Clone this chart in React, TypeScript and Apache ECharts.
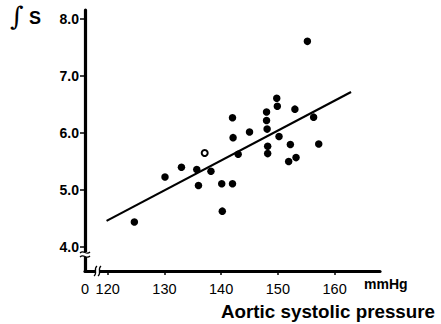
import React, { useEffect, useRef } from "react";
import * as echarts from "echarts";

// Aortic systolic pressure (mmHg) and ∫S values, filled dots
const pressure = [124.7, 130.1, 133.0, 135.7, 136.0, 138.2, 140.1, 140.2, 142.0, 142.0, 142.1, 143.0, 145.0, 148.0, 148.0, 148.1, 148.2, 148.2, 149.8, 149.9, 150.2, 152.2, 151.9, 153.2, 153.0, 155.2, 156.3, 157.2];
const integralS = [4.44, 5.23, 5.40, 5.36, 5.08, 5.33, 5.11, 4.63, 5.11, 6.27, 5.92, 5.63, 6.02, 6.37, 6.22, 6.07, 5.77, 5.64, 6.61, 6.47, 5.94, 5.80, 5.50, 5.57, 6.42, 7.61, 6.28, 5.81];
// open dot
const openPressure = [137.1];
const openS = [5.65];
// regression line end points
const fitPressure = [119.8, 162.9];
const fitS = [4.46, 6.72];

const xTicks = [120, 130, 140, 150, 160];
const yTicks = [4, 5, 6, 7, 8];
const xOriginLabel = "0";

export default function App() {
  const ref = useRef<HTMLDivElement>(null);
  useEffect(() => {
    if (!ref.current) return;
    const chart = echarts.init(ref.current, null, { renderer: "svg" });
    const xMin = 116;
    chart.setOption({
      animation: false,
      backgroundColor: "#fff",
      grid: { left: 85, top: 10, right: 61, bottom: 53 },
      xAxis: {
        type: "value",
        min: xMin,
        max: 168,
        axisLine: { show: true, lineStyle: { color: "#000", width: 3.2 } },
        axisTick: { show: true, length: 4, customValues: xTicks, lineStyle: { color: "#000", width: 1.5 } },
        axisLabel: {
          customValues: [xMin, ...xTicks],
          formatter: (v: number) => (v === xMin ? xOriginLabel : String(v)),
          color: "#000",
          fontSize: 14.5,
          fontFamily: "Liberation Sans, Arial, sans-serif",
          margin: 10,
        },
        splitLine: { show: false },
      },
      yAxis: {
        type: "value",
        min: 3.58,
        max: 8.16,
        axisLine: { show: true, lineStyle: { color: "#000", width: 3.2 } },
        axisTick: { show: true, length: 5, customValues: yTicks, lineStyle: { color: "#000", width: 1.5 } },
        axisLabel: {
          customValues: yTicks,
          formatter: (v: number) => v.toFixed(1),
          color: "#000",
          fontSize: 14,
          fontWeight: "bold",
          fontFamily: "Liberation Sans, Arial, sans-serif",
          margin: 6,
        },
        splitLine: { show: false },
      },
      series: [
        {
          type: "line",
          data: fitPressure.map((x, i) => [x, fitS[i]]),
          showSymbol: false,
          symbol: "none",
          lineStyle: { color: "#000", width: 2.2 },
          z: 2,
        },
        {
          type: "scatter",
          data: pressure.map((x, i) => [x, integralS[i]]),
          symbol: "circle",
          symbolSize: 7.5,
          itemStyle: { color: "#000", opacity: 1 },
          z: 3,
        },
        {
          type: "scatter",
          data: openPressure.map((x, i) => [x, openS[i]]),
          symbol: "circle",
          symbolSize: 6,
          itemStyle: { color: "#fff", borderColor: "#000", borderWidth: 2, opacity: 1 },
          z: 3,
        },
      ],
      graphic: [
        {
          type: "text",
          left: 10,
          top: 3,
          style: { text: "∫", fontSize: 26, fontStyle: "italic", fontFamily: "DejaVu Serif, serif", fill: "#000" },
        },
        {
          type: "text",
          left: 29,
          top: 9,
          style: { text: "S", fontSize: 18, fontWeight: "bold", fontFamily: "Liberation Sans, Arial, sans-serif", fill: "#000" },
        },
        {
          type: "text",
          left: 364,
          top: 277,
          style: { text: "mmHg", fontSize: 14, fontWeight: "bold", fontFamily: "Liberation Sans, Arial, sans-serif", fill: "#000" },
        },
        {
          type: "text",
          right: 6,
          top: 302,
          style: { text: "Aortic systolic pressure", fontSize: 18.8, fontWeight: "bold", fontFamily: "Liberation Sans, Arial, sans-serif", fill: "#000" },
        },
        // axis break marks
        {
          type: "rect",
          shape: { x: 81, y: 252, width: 9, height: 5 },
          style: { fill: "#fff" },
          z: 100,
        },
        {
          type: "bezierCurve",
          shape: { x1: 80, y1: 253, x2: 90, y2: 252, cpx1: 84, cpy1: 249, cpx2: 86, cpy2: 256 },
          style: { stroke: "#000", lineWidth: 1.3, fill: "none" },
          z: 101,
        },
        {
          type: "bezierCurve",
          shape: { x1: 80, y1: 257, x2: 90, y2: 256, cpx1: 84, cpy1: 253, cpx2: 86, cpy2: 260 },
          style: { stroke: "#000", lineWidth: 1.3, fill: "none" },
          z: 101,
        },
        {
          type: "rect",
          shape: { x: 95, y: 266, width: 5, height: 10 },
          style: { fill: "#fff" },
          z: 100,
        },
        {
          type: "bezierCurve",
          shape: { x1: 94, y1: 276, x2: 97, y2: 266, cpx1: 98, cpy1: 273, cpx2: 93, cpy2: 269 },
          style: { stroke: "#000", lineWidth: 1.3, fill: "none" },
          z: 101,
        },
        {
          type: "bezierCurve",
          shape: { x1: 98, y1: 276, x2: 101, y2: 266, cpx1: 102, cpy1: 273, cpx2: 97, cpy2: 269 },
          style: { stroke: "#000", lineWidth: 1.3, fill: "none" },
          z: 101,
        },
      ],
    });
    return () => chart.dispose();
  }, []);
  return <div ref={ref} style={{ width: 441, height: 324, position: "absolute", left: 0, top: 0 }} />;
}
